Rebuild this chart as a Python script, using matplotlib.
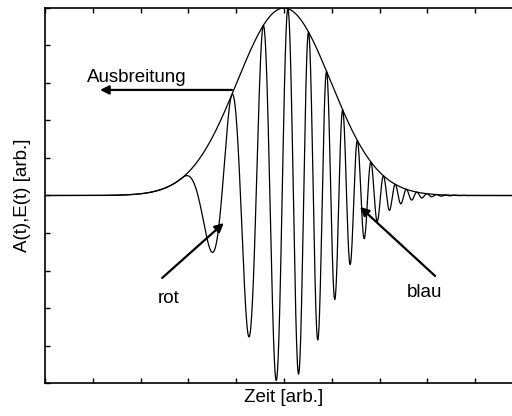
import numpy as np
import matplotlib
matplotlib.use("Agg")
import matplotlib.pyplot as plt

plt.rcParams["font.family"] = ["Liberation Sans", "DejaVu Sans"]

# pulse envelope (time axis 0..10, amplitude -1..1)
pulse_center = 5.0
pulse_width = 0.98

# times of the successive extrema of E(t) (max, min, max, ...)
extrema_t = [2.87, 3.54, 3.95, 4.29, 4.60, 4.87, 5.10, 5.31, 5.52, 5.71,
             5.90, 6.07, 6.23, 6.40, 6.53, 6.69, 6.84, 6.97, 7.09, 7.24,
             7.36, 7.47, 7.57, 7.68, 7.78, 7.89, 7.99, 8.10, 8.20]

x_ticks = list(range(0, 11))
y_ticks = [round(-1 + 0.2 * k, 1) for k in range(11)]

t = np.linspace(0, 10, 4000)
env = np.exp(-(t - pulse_center) ** 2 / (2 * pulse_width ** 2))

# chirped phase: smooth fit through the extrema (n * pi at the n-th extremum)
coef = np.polyfit(extrema_t, np.pi * np.arange(len(extrema_t)), 3)
phase = np.polyval(coef, t) - np.polyval(coef, extrema_t[0])
phase = np.where(t < extrema_t[0], 0.0, phase)
field = env * np.cos(phase)

fig = plt.figure(figsize=(5.12, 4.16), dpi=100)
ax = fig.add_axes([45 / 512, 1 - 383 / 416, 478 / 512, 375 / 416])

ax.plot(t, env, color="black", lw=0.9)
ax.plot(t, field, color="black", lw=0.9)

ax.set_xlim(0, 10)
ax.set_ylim(-1, 1)
ax.set_xticks(x_ticks)
ax.set_yticks(y_ticks)
ax.tick_params(direction="in", length=3.5, width=1, top=True, right=True,
               labelbottom=False, labelleft=False)
for s in ax.spines.values():
    s.set_linewidth(1.2)

ax.set_xlabel("Zeit [arb.]", fontsize=13.5, labelpad=4)
ax.set_ylabel("A(t),E(t) [arb.]", fontsize=13.5, labelpad=10)

arrow = dict(arrowstyle="-|>", color="black", lw=1.6, mutation_scale=13,
             shrinkA=0, shrinkB=0)
ax.annotate("", xy=(1.15, 0.563), xytext=(3.91, 0.563), arrowprops=arrow)
ax.text(1.92, 0.627, "Ausbreitung", fontsize=13.5, ha="center", va="center")

ax.annotate("", xy=(3.74, -0.147), xytext=(2.45, -0.44), arrowprops=arrow)
ax.text(2.59, -0.547, "rot", fontsize=13.5, ha="center", va="center")

ax.annotate("", xy=(6.59, -0.061), xytext=(8.16, -0.429), arrowprops=arrow)
ax.text(7.93, -0.515, "blau", fontsize=13.5, ha="center", va="center")

fig.savefig("out.png", dpi=100)
